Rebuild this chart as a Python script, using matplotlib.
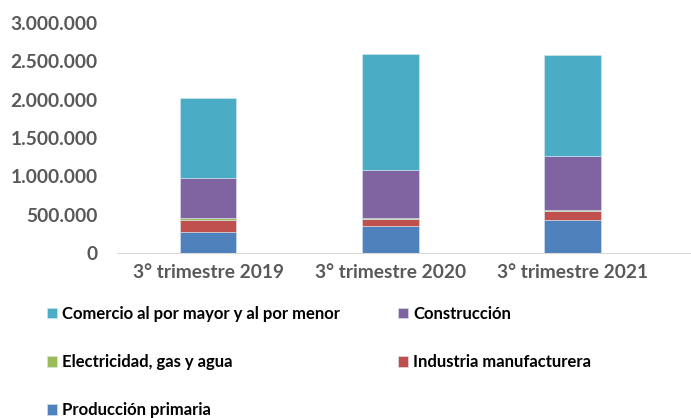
import matplotlib
matplotlib.use("Agg")
import matplotlib.pyplot as plt
from matplotlib.ticker import FuncFormatter

categories = ["3° trimestre 2019", "3° trimestre 2020", "3° trimestre 2021"]
produccion_primaria = [273000, 347000, 434000]
industria_manufacturera = [161000, 96000, 117000]
electricidad_gas_agua = [18000, 13000, 6000]
construccion = [525000, 629000, 714000]
comercio = [1041000, 1510000, 1311000]

series = [
    ("Producción primaria", produccion_primaria, "#4F81BD"),
    ("Industria manufacturera", industria_manufacturera, "#C0504D"),
    ("Electricidad, gas y agua", electricidad_gas_agua, "#9BBB59"),
    ("Construcción", construccion, "#8064A2"),
    ("Comercio al por mayor y al por menor", comercio, "#4BACC6"),
]

plt.rcParams['font.family'] = ['Lato', 'DejaVu Sans']
fig = plt.figure(figsize=(6.91, 4.18), dpi=100)
ax = fig.add_axes([117/691, 1 - 253/418, (691 - 117)/691, (253 - 23)/418])

x = list(range(len(categories)))
bottom = [0] * len(categories)
handles = {}
for name, vals, color in series:
    h = ax.bar(x, vals, width=0.31, bottom=bottom, color=color, label=name,
               edgecolor="#d8e8f0", linewidth=0.4)
    handles[name] = h
    bottom = [b + v for b, v in zip(bottom, vals)]

ax.set_ylim(0, 3000000)
ax.set_yticks(range(0, 3000001, 500000))
ax.yaxis.set_major_formatter(FuncFormatter(lambda v, p: f"{int(v):,}".replace(",", ".")))
ax.set_xlim(-0.5, 2.65)
ax.set_xticks(x)
ax.set_xticklabels(categories)

for s in ["top", "right", "left"]:
    ax.spines[s].set_visible(False)
ax.spines["bottom"].set_color("#d9d9d9")
ax.tick_params(axis="both", length=0, colors="#595959", labelsize=13.8)
ax.tick_params(axis="y", pad=14)
ax.tick_params(axis="x", pad=8)
for lbl in ax.get_xticklabels() + ax.get_yticklabels():
    lbl.set_fontweight("bold")

order = ["Comercio al por mayor y al por menor", "Electricidad, gas y agua",
         "Producción primaria", "Construcción", "Industria manufacturera"]
leg = fig.legend([handles[n] for n in order], order, ncol=2,
                 loc="upper left", bbox_to_anchor=(32/691, 1 - 291/418),
                 frameon=False, handlelength=0.6, handleheight=0.6,
                 handletextpad=0.3, labelspacing=1.93, columnspacing=3.5,
                 prop={"weight": "bold", "size": 12})
for t in leg.get_texts():
    t.set_color("#000000")

fig.savefig("out.png", dpi=100)
